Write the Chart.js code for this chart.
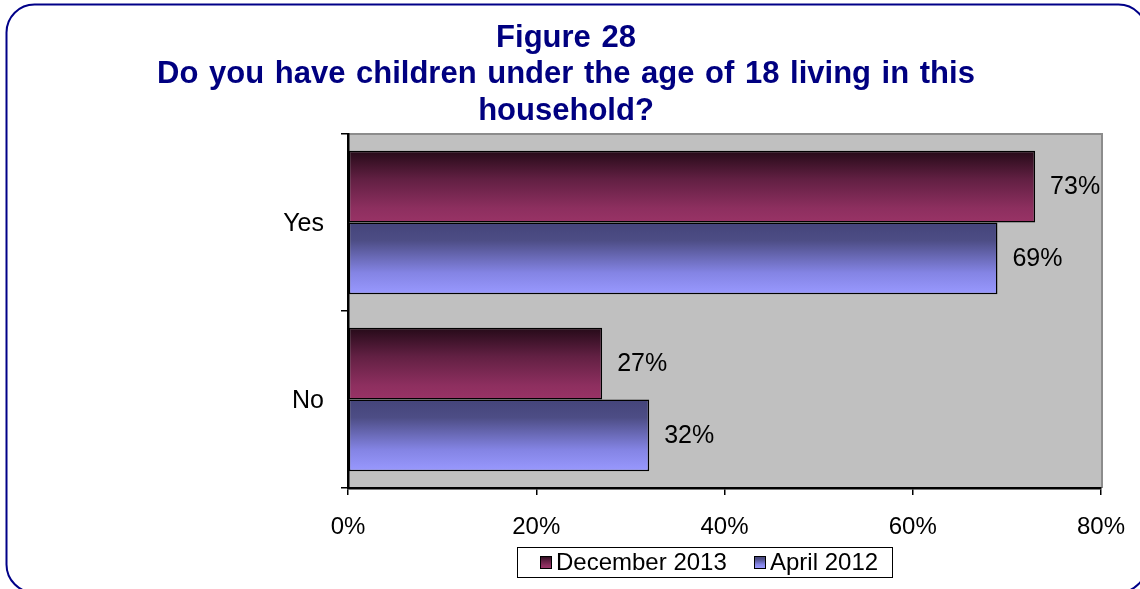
<!DOCTYPE html>
<html>
<head>
<meta charset="utf-8">
<script src="https://cdn.jsdelivr.net/npm/chart.js@4"></script>
<style>
  html, body { margin: 0; padding: 0; background: #fff; }
  #wrap { width: 1140px; height: 589px; position: relative; }
</style>
</head>
<body>
<div id="wrap"><canvas id="surveyChart"></canvas></div>
<script>
// survey answers, percent of respondents
const answers = ['Yes', 'No'];
const dec2013 = [73, 27];
const apr2012 = [69, 32];
const seriesNames = ['December 2013', 'April 2012'];
const xTicks = [0, 20, 40, 60, 80];
const titleLines = ['Figure 28', 'Do you have children under the age of 18 living in this', 'household?'];

const FONT = "'Liberation Sans', Arial, sans-serif";
const CAT_PCT = 0.812;

// vertical shading for each series
const shades = [
  [[0, '#250a18'], [0.4, '#622043'], [0.8, '#8d2f5f'], [1, '#993366']],
  [[0, '#44447a'], [0.25, '#4d4d85'], [0.7, '#8484e4'], [1, '#9999ff']]
];

function makeGradient(c, top, height, stops) {
  const g = c.createLinearGradient(0, top, 0, top + height);
  stops.forEach(s => g.addColorStop(s[0], s[1]));
  return g;
}

function barFill(ctx) {
  const stops = shades[ctx.datasetIndex];
  const fallback = stops[stops.length - 1][1];
  const y = ctx.chart.scales.y;
  if (!y || ctx.type !== 'data') return fallback;
  const band = (y.bottom - y.top) / answers.length;
  const thick = band * CAT_PCT / 2;
  const center = y.getPixelForValue(ctx.dataIndex);
  const top = ctx.datasetIndex === 0 ? center - thick : center;
  if (!isFinite(top) || !isFinite(thick) || thick <= 0) return fallback;
  return makeGradient(ctx.chart.ctx, top, thick, stops);
}

const frame = {
  id: 'frame',
  beforeDraw(chart) {
    const c = chart.ctx;
    const a = chart.chartArea;
    c.save();
    // outer rounded border
    c.strokeStyle = '#000088';
    c.lineWidth = 2;
    c.beginPath();
    c.roundRect(6.5, 4.5, 1140, 588, 28);
    c.stroke();
    // plot background
    c.fillStyle = '#c0c0c0';
    c.fillRect(a.left, a.top, a.right - a.left, a.bottom - a.top);
    c.strokeStyle = '#8c8c8c';
    c.lineWidth = 2;
    c.beginPath();
    c.moveTo(a.left, a.top);
    c.lineTo(a.right + 1, a.top);
    c.lineTo(a.right + 1, a.bottom);
    c.stroke();
    c.restore();
  },
  afterDraw(chart) {
    const c = chart.ctx;
    c.save();
    // title
    c.fillStyle = '#000080';
    c.font = 'bold 31px ' + FONT;
    c.textAlign = 'center';
    c.textBaseline = 'middle';
    if ('wordSpacing' in c) c.wordSpacing = '2px';
    titleLines.forEach((t, i) => c.fillText(t, 566, 38 + i * 36.5));
    if ('wordSpacing' in c) c.wordSpacing = '0px';

    // legend
    c.fillStyle = '#fff';
    c.fillRect(517.5, 547.5, 375, 30);
    c.strokeStyle = '#000';
    c.lineWidth = 1;
    c.strokeRect(517.5, 547.5, 375, 30);
    const marks = [540, 754];
    c.font = '24px ' + FONT;
    c.textAlign = 'left';
    seriesNames.forEach((name, i) => {
      c.fillStyle = makeGradient(c, 556, 12, shades[i]);
      c.fillRect(marks[i] + 0.5, 556.5, 11, 12);
      c.strokeRect(marks[i] + 0.5, 556.5, 11, 12);
      c.fillStyle = '#000';
      c.fillText(name, marks[i] + 16, 563);
    });
    c.restore();
  },
  afterDatasetsDraw(chart) {
    const c = chart.ctx;
    c.save();
    c.fillStyle = '#000';
    c.font = '25px ' + FONT;
    c.textAlign = 'left';
    c.textBaseline = 'middle';
    chart.data.datasets.forEach((ds, di) => {
      chart.getDatasetMeta(di).data.forEach((bar, i) => {
        c.fillText(ds.data[i] + '%', bar.x + 15, bar.y + 1);
      });
    });
    c.restore();
  }
};

new Chart(document.getElementById('surveyChart'), {
  type: 'bar',
  data: {
    labels: answers,
    datasets: [
      { label: seriesNames[0], data: dec2013, backgroundColor: barFill, borderColor: '#000', borderWidth: 1.5, borderSkipped: false },
      { label: seriesNames[1], data: apr2012, backgroundColor: barFill, borderColor: '#000', borderWidth: 1.5, borderSkipped: false }
    ]
  },
  options: {
    indexAxis: 'y',
    responsive: true,
    maintainAspectRatio: false,
    animation: false,
    layout: { padding: { top: 134, right: 39, bottom: 0, left: 0 } },
    datasets: { bar: { categoryPercentage: CAT_PCT, barPercentage: 1 } },
    plugins: {
      legend: { display: false },
      title: { display: false },
      tooltip: { enabled: false }
    },
    scales: {
      x: {
        min: 0,
        max: 80,
        afterFit: s => { s.height = 101; s.paddingLeft = 0; s.paddingRight = 0; },
        afterBuildTicks: s => { s.ticks = xTicks.map(v => ({ value: v })); },
        ticks: {
          color: '#000',
          font: { family: FONT, size: 24 },
          padding: 18,
          callback: v => v + '%'
        },
        grid: { drawOnChartArea: false, drawTicks: true, tickLength: 7, color: '#000', lineWidth: 1.5 },
        border: { display: true, color: '#000', width: 2.5 }
      },
      y: {
        afterFit: s => { s.width = 348; },
        ticks: {
          color: '#000',
          font: { family: FONT, size: 25 },
          padding: 17,
          labelOffset: 2
        },
        grid: { drawOnChartArea: false, drawTicks: true, tickLength: 7, color: '#000', lineWidth: 1.5, offset: true },
        border: { display: true, color: '#000', width: 2.5 }
      }
    }
  },
  plugins: [frame]
});
</script>
</body>
</html>
